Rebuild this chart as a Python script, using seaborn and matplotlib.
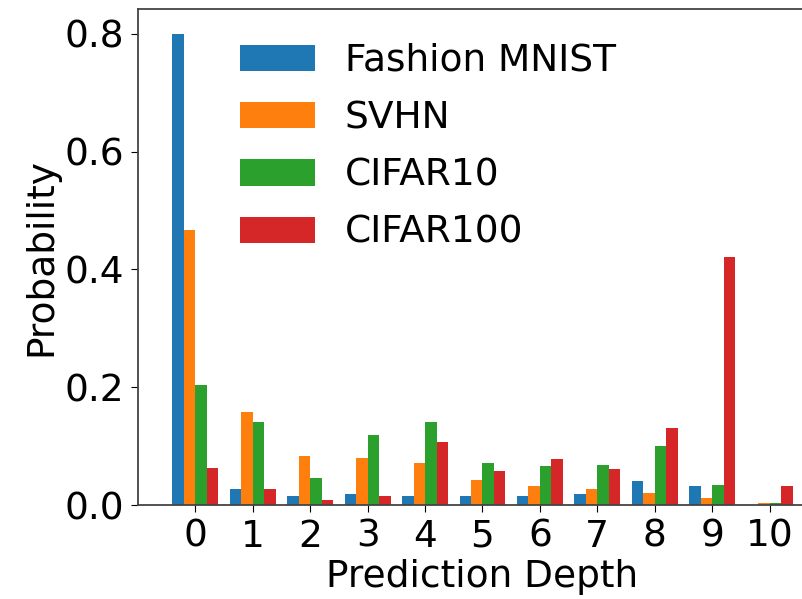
import matplotlib
matplotlib.use("Agg")
import matplotlib.pyplot as plt
import pandas as pd
import seaborn as sns

# prediction depth 0..10, probability per dataset
depths = list(range(11))
fashion_mnist = [0.800, 0.027, 0.016, 0.019, 0.015, 0.016, 0.015, 0.019, 0.040, 0.032, 0.000]
svhn = [0.467, 0.158, 0.083, 0.079, 0.071, 0.042, 0.032, 0.028, 0.020, 0.012, 0.004]
cifar10 = [0.204, 0.141, 0.046, 0.118, 0.141, 0.071, 0.066, 0.068, 0.100, 0.034, 0.004]
cifar100 = [0.063, 0.027, 0.009, 0.015, 0.107, 0.057, 0.078, 0.061, 0.130, 0.421, 0.032]
names = ["Fashion MNIST", "SVHN", "CIFAR10", "CIFAR100"]

rows = []
for name, vals in zip(names, [fashion_mnist, svhn, cifar10, cifar100]):
    for d, v in zip(depths, vals):
        rows.append({"depth": d, "prob": v, "dataset": name})
df = pd.DataFrame(rows)

plt.rcParams["font.family"] = "DejaVu Sans"
plt.rcParams["font.size"] = 27

fig = plt.figure(figsize=(8.03, 5.99), dpi=100)
# axes: left 138px, bottom 505px, top 9px, runs off the right edge
ax = fig.add_axes([138 / 803, (599 - 505) / 599, (827 - 138) / 803, (505 - 9) / 599])

sns.barplot(data=df, x="depth", y="prob", hue="dataset", hue_order=names,
            palette="tab10", saturation=1, width=0.8, linewidth=0, ax=ax)

ax.set_xlim(-1.0, 11.0)
ax.set_ylim(0, 0.842)
ax.set_yticks([0.0, 0.2, 0.4, 0.6, 0.8])
ax.set_xlabel("Prediction Depth", fontsize=27, labelpad=3)
ax.set_ylabel("Probability", fontsize=27)
ax.tick_params(labelsize=27, length=5, pad=5)
for s in ax.spines.values():
    s.set_color("#444444")
    s.set_linewidth(1.3)

ax.legend(frameon=False, loc="upper left", bbox_to_anchor=(206 / 803, 1 - 9 / 599),
          bbox_transform=fig.transFigure, fontsize=27, labelspacing=0.57)

fig.savefig("out.png", dpi=100)
